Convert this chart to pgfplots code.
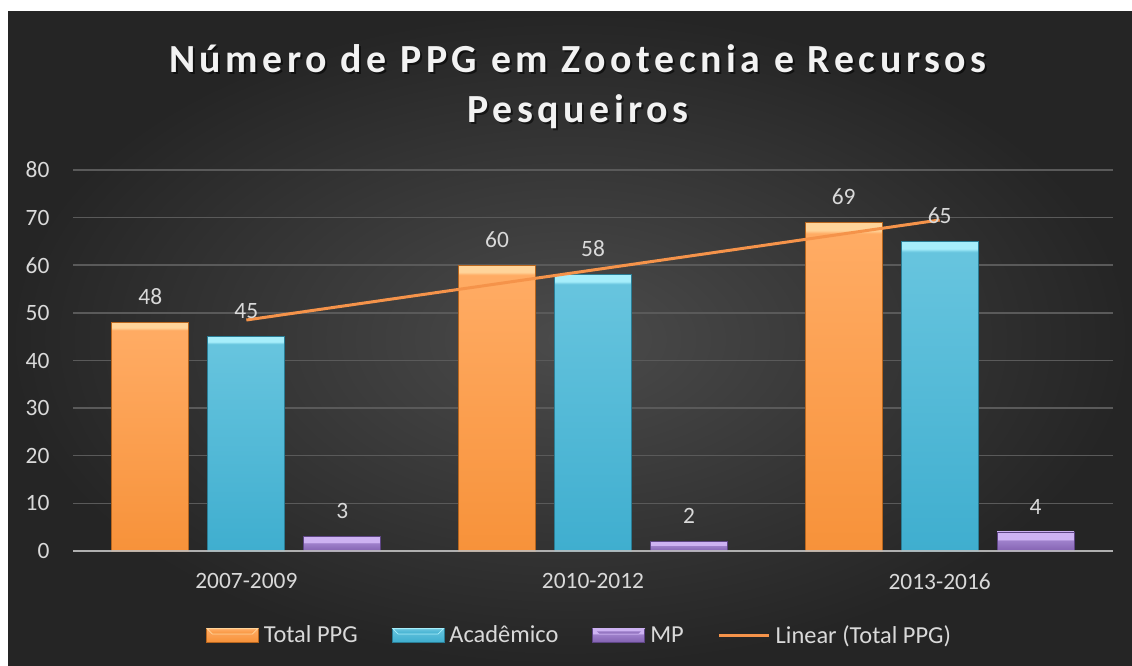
\documentclass[border=0pt]{standalone}
\usepackage{fontspec}
\setmainfont{Carlito}
\newfontfamily\titlefont[LetterSpace=11.5]{Carlito}
\usepackage{pgfplots}
\pgfplotsset{compat=1.18}

\definecolor{bgin}{HTML}{4B4B4B}
\definecolor{bgout}{HTML}{252525}
\definecolor{gridc}{HTML}{5A5A5A}
\definecolor{labc}{HTML}{D9D9D9}
\definecolor{titc}{HTML}{F2F2F2}
\definecolor{orTop}{HTML}{FFAB63}\definecolor{orBot}{HTML}{F7923A}
\definecolor{orEdge}{HTML}{B8661E}\definecolor{orBev}{HTML}{FFD49A}
\definecolor{cyTop}{HTML}{66C4DE}\definecolor{cyBot}{HTML}{3FAECF}
\definecolor{cyEdge}{HTML}{2A7D95}\definecolor{cyBev}{HTML}{A6EEFB}
\definecolor{puTop}{HTML}{9E80CB}\definecolor{puBot}{HTML}{8463B2}
\definecolor{puEdge}{HTML}{5E4585}\definecolor{puBev}{HTML}{CDB2F2}
\definecolor{trend}{HTML}{F5934A}

% vertical shading with a light strip at the top of each bar
\pgfdeclareverticalshading{orshade}{100bp}{color(0bp)=(orBot); color(25bp)=(orBot); color(72bp)=(orTop); color(73.3bp)=(orTop); color(73.8bp)=(orBev); color(100bp)=(orBev)}
\pgfdeclareverticalshading{cyshade}{100bp}{color(0bp)=(cyBot); color(25bp)=(cyBot); color(72bp)=(cyTop); color(73.3bp)=(cyTop); color(73.8bp)=(cyBev); color(100bp)=(cyBev)}
\pgfdeclareverticalshading{pushade}{100bp}{color(0bp)=(puBot); color(25bp)=(puBot); color(52bp)=(puTop); color(56bp)=(puBev); color(100bp)=(puBev)}

\pgfplotsset{
  barleg/.style={legend image code/.code={\draw[##1] (0bp,-7bp) rectangle (52bp,7bp);
    \fill[#1] (0.6bp,6.4bp) -- (51.4bp,6.4bp) -- (46bp,1bp) -- (6bp,1bp) -- cycle;}},
  lineleg/.style={legend image code/.code={\draw[##1] (0bp,0bp) -- (50bp,0bp);}},
  orbar/.style={bar shift=-96bp, draw=orEdge, line width=0.8bp, shade, shading=orshade, nodes near coords, barleg=orBev},
  cybar/.style={bar shift=0bp, draw=cyEdge, line width=0.8bp, shade, shading=cyshade, nodes near coords, barleg=cyBev},
  pubar/.style={bar shift=96bp, draw=puEdge, line width=0.8bp, shade, shading=pushade, nodes near coords, barleg=puBev},
}

\newcommand{\lab}{\fontsize{23.5}{28}\selectfont}

\begin{document}
\begin{tikzpicture}[x=1bp,y=1bp]
\fill[white] (0,0) rectangle (1132,666);
\shade[inner color=bgin, outer color=bgout] (8,0) rectangle (1132,654);

\node[text=black, opacity=0.55, font=\titlefont\bfseries\fontsize{40}{50}\selectfont, align=center]
  at (580,577) {Número de PPG em Zootecnia e Recursos\\Pesqueiros};
\node[text=titc, font=\titlefont\bfseries\fontsize{40}{50}\selectfont, align=center]
  at (578,579) {Número de PPG em Zootecnia e Recursos\\Pesqueiros};

\begin{axis}[
  at={(73bp,115bp)}, anchor=south west, scale only axis,
  width=1040bp, height=381bp,
  xmin=-0.5, xmax=2.5, ymin=0, ymax=80,
  ybar, bar width=77bp,
  xtick={0,1,2}, xticklabels={2007-2009,2010-2012,2013-2016},
  ytick={0,10,...,80},
  axis line style={draw=none},
  ymajorgrids, grid style={gridc, line width=1.5bp},
  major tick length=0pt,
  tick label style={font=\lab, text=labc},
  /pgf/number format/assume math mode=true,
  yticklabel style={xshift=-20bp},
  xticklabel style={yshift=-19bp},
  every node near coord/.append style={font=\lab, text=labc, yshift=14bp},
  legend columns=4,
  legend style={at={(0.487,-0.2205)}, anchor=center, draw=none, fill=none,
    font=\fontsize{24.5}{28}\selectfont, text=labc,
    /tikz/every odd column/.append style={column sep=3bp},
    /tikz/every even column/.append style={column sep=32bp}},
  clip=false,
]
% Total PPG
\addplot[orbar] coordinates {(0,48)};
\addlegendentry{Total PPG}
\addplot[orbar, forget plot] coordinates {(1,60)};
\addplot[orbar, forget plot] coordinates {(2,69)};
% Academico
\addplot[cybar] coordinates {(0,45)};
\addlegendentry{Acadêmico}
\addplot[cybar, forget plot] coordinates {(1,58)};
\addplot[cybar, forget plot] coordinates {(2,65)};
% MP
\addplot[pubar] coordinates {(0,3)};
\addlegendentry{MP}
\addplot[pubar, forget plot] coordinates {(1,2)};
\addplot[pubar, forget plot] coordinates {(2,4)};
% linear trend of Total PPG
\addplot[sharp plot, trend, line width=3bp, lineleg]
  coordinates {(0,48.5) (2,69.5)};
\addlegendentry{Linear (Total PPG)}
\draw[white!75!black, opacity=0.85, line width=2.5bp] (rel axis cs:0,0) -- (rel axis cs:1,0);
\end{axis}
\end{tikzpicture}
\end{document}
